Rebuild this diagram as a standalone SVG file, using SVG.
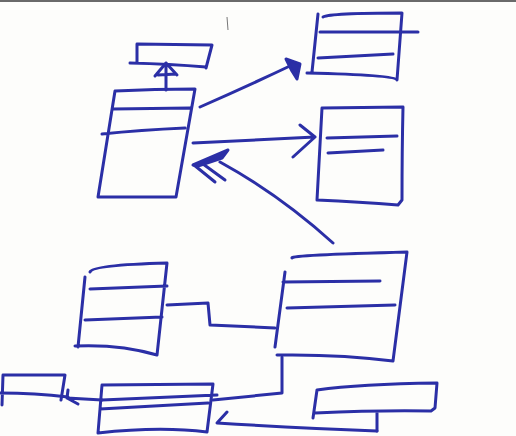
<svg xmlns="http://www.w3.org/2000/svg" width="516" height="436" viewBox="0 0 516 436">
<style>
.s{fill:none;stroke:#2b2fa6;stroke-width:3;stroke-linecap:round;stroke-linejoin:round}
.h{fill:#2b2fa6;stroke:#2b2fa6;stroke-width:3;stroke-linejoin:round}
</style>
<rect width="516" height="436" fill="#fdfdfb"/>
<line x1="0" y1="1" x2="516" y2="1" stroke="#6a6a6a" stroke-width="2"/>
<line x1="227" y1="17" x2="228" y2="30" stroke="#777" stroke-width="1"/>

<g id="nodeA">
<path class="s" d="M137,44 L212,45 L206,68 M130,63 Q170,64 206,67 M137,44 L137,63"/>
</g>
<g id="nodeB">
<path class="s" d="M115,91 Q155,89 195,89 L176,197 L98,197 L115,91 M113,109 L190,108 M102,134 Q140,130 185,128"/>
</g>
<g id="nodeC">
<path class="s" d="M323,17 Q330,13 402,13 L397,80 Q395,75 307,73 M318,14 L312,72 M320,32 L418,32 M318,58 L393,54"/>
</g>
<g id="nodeD">
<path class="s" d="M322,108 L403,107 Q402,150 402,200 L398,205 Q360,202 317,200 L322,108 M327,138 L397,136 M328,153 L383,150"/>
</g>
<g id="nodeE">
<path class="s" d="M90,272 Q92,265 167,263 L157,355 Q120,344 75,346 M85,277 L78,347 M90,289 L167,286 M85,320 L162,317"/>
</g>
<g id="nodeF">
<path class="s" d="M292,258 Q290,255 407,252 L393,361 Q340,354 277,355 M285,272 L275,347 M283,282 L380,281 M287,308 L395,305"/>
</g>
<g id="nodeG">
<path class="s" d="M102,385 L213,384 L207,432 Q160,426 98,433 L102,385 M102,400 L217,395 M100,409 L208,403"/>
</g>
<g id="nodeH">
<path class="s" d="M3,375 L65,375 L61,400 M0,393 Q35,393 68,397 M3,375 L2,405"/>
</g>
<g id="nodeI">
<path class="s" d="M317,390 Q360,384 437,383 L435,408 L431,411 Q380,410 315,413 M317,390 L313,418 M377,413 L377,431"/>
</g>

<g id="connectors">
<path class="s" d="M166,90 L166,63 M155,76 L166,63 L177,75 M158,75 L176,74"/>
<path class="s" d="M200,107 Q250,85 292,65"/>
<path class="h" d="M286,59 L300,64 L297,79 L292,71 Z"/>
<path class="s" d="M193,143 L315,137 M300,125 L315,137 L293,157"/>
<path class="s" d="M333,243 Q280,195 220,162"/>
<path class="h" d="M193,165 L228,150 L222,158 L198,166 Z"/>
<path class="s" d="M194,165 L215,182 M203,164 L225,180"/>
<path class="s" d="M167,305 L208,303 L210,325 L275,328"/>
<path class="s" d="M282,357 L282,393 L213,400"/>
<path class="s" d="M102,400 L67,398 M68,390 L67,398 L78,404"/>
<path class="s" d="M377,431 Q300,428 217,423 L227,412"/>
</g>
</svg>
